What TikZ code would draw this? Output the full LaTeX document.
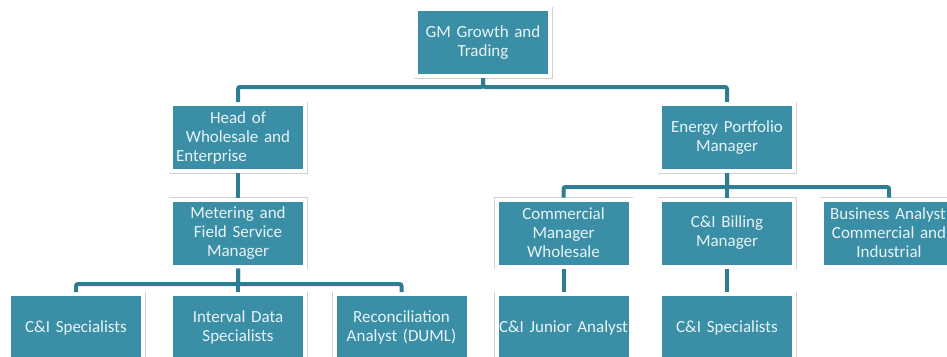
\documentclass[tikz,border=0pt]{standalone}
\usepackage{fontspec}
\setmainfont{Carlito}
\definecolor{boxteal}{RGB}{58,143,166}
\definecolor{lineteal}{RGB}{46,126,146}
\definecolor{txtcol}{RGB}{232,243,246}
\newcommand{\ctrline}[1]{\makebox[\linewidth][c]{#1}}
\begin{document}
\begin{tikzpicture}[x=1pt,y=-1pt,
  orgbox/.style={rectangle, fill=boxteal, draw=white, line width=4pt,
    preaction={draw=gray!35, line width=5pt},
    minimum width=134pt, minimum height=67pt, inner sep=2pt,
    text width=124pt, align=center, text=txtcol,
    font=\fontsize{17}{19}\selectfont},
  conn/.style={draw=lineteal, line width=4pt, rounded corners=2pt}]
\useasboundingbox (0,0) rectangle (947,356);
\begin{scope}
\clip (0,0) rectangle (947,356);
\coordinate (b1) at (0,87);
\coordinate (b2) at (0,187);
\coordinate (b3) at (0,284);
\node[orgbox] (gm) at (483,42.5) {GM Growth and\\Trading};
\node[orgbox] (head) at (238,137.5) {Head of\\Wholesale and\\\makebox[\linewidth][l]{Enterprise}};
\node[orgbox] (energy) at (727,137.5) {Energy Portfolio\\Manager};
\node[orgbox] (meter) at (238,233) {Metering and\\Field Service\\Manager};
\node[orgbox] (cm) at (563.5,233) {Commercial\\Manager\\Wholesale};
\node[orgbox] (bill) at (727,233) {C\&I Billing\\Manager};
\node[orgbox] (ba) at (889,233) {\ctrline{\hspace*{-2pt}Business Analyst}\\Commercial and\\Industrial};
\node[orgbox] (s1) at (76,327.5) {C\&I Specialists};
\node[orgbox] (ids) at (238,327.5) {Interval Data\\Specialists};
\node[orgbox] (rec) at (401.5,327.5) {Reconciliation\\Analyst (DUML)};
\node[orgbox] (jr) at (563.5,327.5) {\ctrline{C\&I Junior Analyst}};
\node[orgbox] (s2) at (727,327.5) {C\&I Specialists};
% connectors
\draw[conn] (gm.south) -- (gm.south |- b1) -| (head.north);
\draw[conn] (gm.south) -- (gm.south |- b1) -| (energy.north);
\draw[conn] (head.south) -- (meter.north);
\draw[conn] (meter.south) -- (meter.south |- b3) -| (s1.north);
\draw[conn] (meter.south) -- (ids.north);
\draw[conn] (meter.south) -- (meter.south |- b3) -| (rec.north);
\draw[conn] (energy.south) -- (energy.south |- b2) -| (cm.north);
\draw[conn] (energy.south) -- (bill.north);
\draw[conn] (energy.south) -- (energy.south |- b2) -| (ba.north);
\draw[conn] (cm.south) -- (jr.north);
\draw[conn] (bill.south) -- (s2.north);
\end{scope}
\end{tikzpicture}
\end{document}
